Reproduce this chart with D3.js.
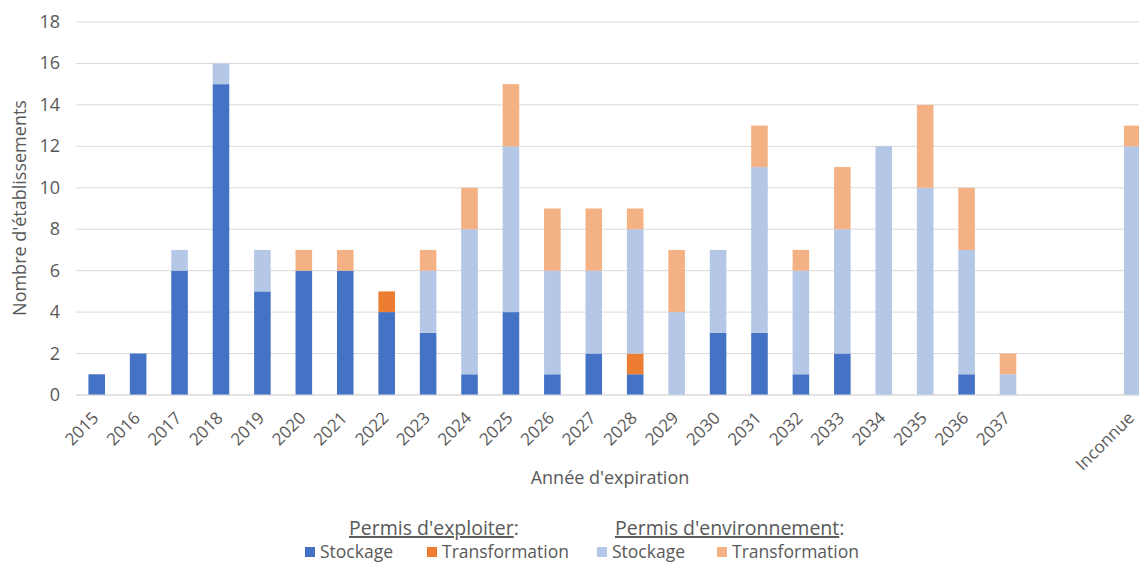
<!DOCTYPE html>
<head>
  <meta charset="utf-8">
  <script src="https://d3js.org/d3.v7.min.js"></script>
  <style>
    body { margin: 0; background: #fff; }
    text { font-family: "Open Sans", "Noto Sans", sans-serif; fill: #595959; }
  </style>
</head>
<body>
<script>
  // categories (two blank slots before "Inconnue", as in the original)
  var categories = ["2015","2016","2017","2018","2019","2020","2021","2022","2023","2024","2025","2026",
                    "2027","2028","2029","2030","2031","2032","2033","2034","2035","2036","2037"," ","  ","Inconnue"]
  var exploitStockage       = [1,2,6,15,5,6,6,4,3,1,4,1,2,1,0,3,3,1,2,0,0,1,0,0,0,0]
  var exploitTransformation = [0,0,0,0,0,0,0,1,0,0,0,0,0,1,0,0,0,0,0,0,0,0,0,0,0,0]
  var envStockage           = [0,0,1,1,2,0,0,0,3,7,8,5,4,6,4,4,8,5,6,12,10,6,1,0,0,12]
  var envTransformation     = [0,0,0,0,0,1,1,0,1,2,3,3,3,1,3,0,2,1,3,0,4,3,1,0,0,1]
  var yTicks = [0,2,4,6,8,10,12,14,16,18]

  var seriesKeys = ["es","et","vs","vt"]
  var seriesColors = {"es":"#4472C4","et":"#ED7D31","vs":"#B4C7E7","vt":"#F4B183"}

  var table = categories.map(function(c, i){
    return {cat: c, es: exploitStockage[i], et: exploitTransformation[i], vs: envStockage[i], vt: envTransformation[i]}
  })

  var svg_w = 1139, svg_h = 562
  var svg = d3.select("body").append("svg")
    .attr("width", svg_w).attr("height", svg_h)

  // the plot area runs past the right edge, like the original (Inconnue bar is cut)
  var x = d3.scaleBand().domain(categories).range([76, 1153]).paddingInner(0.6).paddingOuter(0.3)
  var y = d3.scaleLinear().domain([0, 18]).range([395, 22])

  // gridlines
  svg.append("g").selectAll("line").data(yTicks).enter().append("line")
    .attr("x1", 76).attr("x2", svg_w)
    .attr("y1", function(d){return y(d)}).attr("y2", function(d){return y(d)})
    .attr("stroke", "#d9d9d9").attr("stroke-width", 1)

  // y tick labels
  svg.append("g").selectAll("text").data(yTicks).enter().append("text")
    .attr("x", 60).attr("y", function(d){return y(d)+6})
    .attr("text-anchor", "end").attr("font-size", "18px")
    .text(function(d){return d})

  // stacked bars
  var stack = d3.stack().keys(seriesKeys)(table)
  svg.append("g").selectAll("g").data(stack).enter().append("g")
    .attr("fill", function(d){return seriesColors[d.key]})
    .selectAll("rect").data(function(d){return d}).enter().append("rect")
    .attr("x", function(d){return x(d.data.cat)})
    .attr("width", x.bandwidth())
    .attr("y", function(d){return y(d[1])})
    .attr("height", function(d){return y(d[0]) - y(d[1])})

  // x axis
  var xAxis = svg.append("g").attr("transform", "translate(0,395)")
    .call(d3.axisBottom(x).tickSize(0).tickPadding(0))
  xAxis.select(".domain").attr("stroke", "#d9d9d9").attr("d", "M76,0H" + svg_w)
  xAxis.selectAll("text")
    .attr("font-size", "17px").attr("fill", "#595959")
    .attr("text-anchor", "end")
    .attr("dy", null)
    .attr("transform", "translate(3,24) rotate(-45)")

  // axis titles
  svg.append("text").attr("x", 610).attr("y", 484).attr("text-anchor", "middle")
    .attr("font-size", "18px").text("Année d'expiration")
  svg.append("text").attr("transform", "translate(26,208) rotate(-90)")
    .attr("text-anchor", "middle").attr("font-size", "18px").text("Nombre d'établissements")

  // legend
  var groups = [{label: "Permis d'exploiter", x: 349}, {label: "Permis d'environnement", x: 615}]
  groups.forEach(function(g){
    var t = svg.append("text").attr("x", g.x).attr("y", 535).attr("font-size", "19.5px")
    t.append("tspan").attr("text-decoration", "underline").text(g.label)
    t.append("tspan").text(":")
  })
  var legendItems = [
    {key: "es", label: "Stockage", x: 305},
    {key: "et", label: "Transformation", x: 427},
    {key: "vs", label: "Stockage", x: 597},
    {key: "vt", label: "Transformation", x: 717}
  ]
  var li = svg.append("g").selectAll("g").data(legendItems).enter().append("g")
  li.append("rect").attr("x", function(d){return d.x}).attr("y", 547)
    .attr("width", 10).attr("height", 10).attr("fill", function(d){return seriesColors[d.key]})
  li.append("text").attr("x", function(d){return d.x + 15}).attr("y", 558)
    .attr("font-size", "17.5px").text(function(d){return d.label})
</script>
</body>
